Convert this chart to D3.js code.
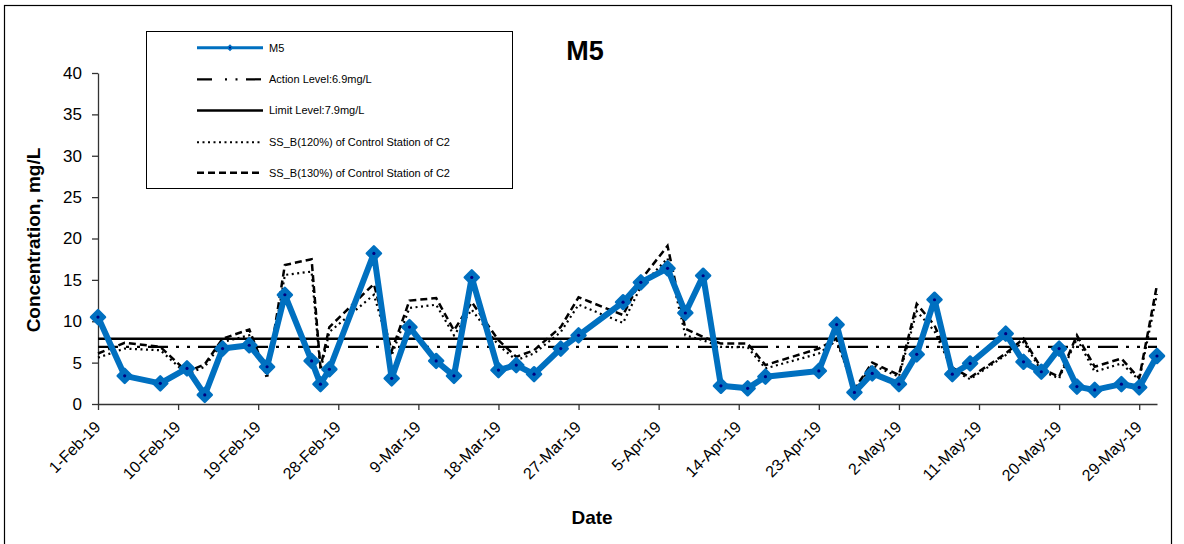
<!DOCTYPE html>
<html><head><meta charset="utf-8">
<script src="https://cdn.jsdelivr.net/npm/d3@7"></script>
<style>
body{margin:0;background:#fff}
svg{display:block;font-family:"Liberation Sans",Arial,sans-serif}
</style>
</head><body>
<svg id="c" width="1184" height="544"></svg>
<script>
// ---- data ----
const dates = ["2019-02-01","2019-02-04","2019-02-08","2019-02-11","2019-02-13","2019-02-15","2019-02-18","2019-02-20","2019-02-22","2019-02-25","2019-02-26","2019-02-27",
  "2019-03-04","2019-03-06","2019-03-08","2019-03-11","2019-03-13","2019-03-15","2019-03-18","2019-03-20","2019-03-22","2019-03-25","2019-03-27",
  "2019-04-01","2019-04-03","2019-04-06","2019-04-08","2019-04-10","2019-04-12","2019-04-15","2019-04-17","2019-04-23","2019-04-25","2019-04-27","2019-04-29",
  "2019-05-02","2019-05-04","2019-05-06","2019-05-08","2019-05-10","2019-05-14","2019-05-16","2019-05-18","2019-05-20","2019-05-22","2019-05-24","2019-05-27","2019-05-29","2019-05-31"];
const m5 = [10.5,3.4,2.5,4.3,1.1,6.7,7.1,4.5,13.2,5.2,2.4,4.2,
  18.2,3.1,9.3,5.2,3.4,15.3,4.1,4.7,3.6,6.7,8.3,
  12.3,14.7,16.4,11.0,15.5,2.2,1.9,3.3,4.0,9.6,1.4,3.7,
  2.4,6.0,12.6,3.6,4.9,8.5,5.1,3.9,6.7,2.1,1.7,2.4,2.0,5.8];
const ss120 = [5.6,6.7,6.5,3.6,4.5,7.5,8.3,3.1,15.6,16.0,4.1,8.7,
  13.2,5.9,11.6,12.0,8.3,11.4,7.1,5.3,6.1,8.7,12.0,
  9.8,14.2,17.6,8.3,7.7,6.9,6.85,4.3,6.1,7.7,1.6,4.7,
  3.3,11.2,8.8,4.1,3.0,5.9,7.5,4.0,3.1,7.9,3.9,4.9,2.9,13.3];
const ss130 = [6.1,7.4,6.9,3.9,4.8,7.9,9.0,3.4,16.8,17.5,4.4,9.3,
  14.5,6.4,12.5,12.8,8.9,12.3,7.7,5.7,6.5,9.3,12.9,
  10.75,15.0,19.1,9.1,8.1,7.3,7.3,4.7,6.7,7.9,1.8,5.0,
  3.5,12.1,9.5,4.4,3.2,6.1,7.9,4.3,3.3,8.3,4.5,5.5,3.1,14.4];
const actionLevel = 6.9;
const limitLevel = 7.9;
const yTicks = [0,5,10,15,20,25,30,35,40];
const xTickDates = ["2019-02-01","2019-02-10","2019-02-19","2019-02-28","2019-03-09","2019-03-18","2019-03-27","2019-04-05","2019-04-14","2019-04-23","2019-05-02","2019-05-11","2019-05-20","2019-05-29"];
const xDomain = ["2019-02-01","2019-05-31"];
const legendLabels = ["M5","Action Level:6.9mg/L","Limit Level:7.9mg/L","SS_B(120%) of Control Station of C2","SS_B(130%) of Control Station of C2"];

// ---- chart ----
const parse = d3.utcParse("%Y-%m-%d");
const fmt = d3.utcFormat("%-d-%b-%y");
const svg = d3.select("#c");
const BLUE = "#0070C0";

svg.append("rect").attr("x",4.5).attr("y",5.5).attr("width",1167).attr("height",560)
  .attr("fill","none").attr("stroke","#000").attr("stroke-width",1.2);

const x = d3.scaleUtc().domain(xDomain.map(parse)).range([98,1157]);
const y = d3.scaleLinear().domain([0,40]).range([404,73]);

// axes
const yAxis = svg.append("g").attr("transform","translate(98,0)")
  .call(d3.axisLeft(y).tickValues(yTicks).tickSize(6).tickSizeOuter(0).tickPadding(10));
yAxis.selectAll("text").attr("font-size",17).attr("fill","#000").attr("font-family","Liberation Sans, Arial, sans-serif");
yAxis.selectAll("line,path").attr("stroke","#333").attr("stroke-width",1.3);

const xAxis = svg.append("g").attr("transform","translate(0,404)")
  .call(d3.axisBottom(x).tickValues(xTickDates.map(parse)).tickFormat(fmt).tickSize(6).tickSizeOuter(0));
xAxis.selectAll("line,path").attr("stroke","#333").attr("stroke-width",1.3);
xAxis.selectAll("text")
  .attr("font-size",16).attr("fill","#000").attr("font-family","Liberation Sans, Arial, sans-serif")
  .attr("text-anchor","end").attr("y",0).attr("dy",0)
  .attr("transform","translate(3,24) rotate(-45)");

// titles
svg.append("text").attr("x",585).attr("y",60).attr("text-anchor","middle")
  .attr("font-size",27).attr("font-weight","bold").text("M5");
svg.append("text").attr("transform","translate(40,240) rotate(-90)").attr("text-anchor","middle")
  .attr("font-size",19).attr("font-weight","bold").text("Concentration, mg/L");
svg.append("text").attr("x",592).attr("y",524).attr("text-anchor","middle")
  .attr("font-size",19).attr("font-weight","bold").text("Date");

const rows = dates.map((d,i)=>({d:parse(d), m5:m5[i], s120:ss120[i], s130:ss130[i]}));
const xr = x.range();

// horizontal levels
const ACTION_DASH = "20,8,3,8,3,8";
svg.append("line").attr("x1",xr[0]).attr("x2",xr[1]).attr("y1",y(actionLevel)).attr("y2",y(actionLevel))
  .attr("stroke","#000").attr("stroke-width",2.2).attr("stroke-dasharray",ACTION_DASH);
svg.append("line").attr("x1",xr[0]).attr("x2",xr[1]).attr("y1",y(limitLevel)).attr("y2",y(limitLevel))
  .attr("stroke","#000").attr("stroke-width",2.5);

// SS lines
const line = key => d3.line().x(d=>x(d.d)).y(d=>y(d[key]));
svg.append("path").datum(rows).attr("d",line("s120")).attr("fill","none")
  .attr("stroke","#000").attr("stroke-width",2.2).attr("stroke-dasharray","2,3.5");
svg.append("path").datum(rows).attr("d",line("s130")).attr("fill","none")
  .attr("stroke","#000").attr("stroke-width",2.5).attr("stroke-dasharray","7,4");

// M5
svg.append("path").datum(rows).attr("d",line("m5")).attr("fill","none")
  .attr("stroke",BLUE).attr("stroke-width",6).attr("stroke-linejoin","round");
const diamond = r => `M0,${-r}L${r},0L0,${r}L${-r},0Z`;
const mk = svg.append("g").selectAll("g").data(rows).join("g")
  .attr("transform",d=>`translate(${x(d.d)},${y(d.m5)})`);
mk.append("path").attr("d",diamond(7)).attr("fill",BLUE).attr("stroke",BLUE)
  .attr("stroke-width",2.5).attr("stroke-linejoin","round");
mk.append("circle").attr("r",1.6).attr("fill","#000080");

// legend
const lg = svg.append("g");
lg.append("rect").attr("x",146.5).attr("y",31.5).attr("width",366).attr("height",157)
  .attr("fill","#fff").attr("stroke","#000").attr("stroke-width",1);
const ly = [47.7,79.3,110.5,142.3,172.7];
const styles = [
  {stroke:BLUE,w:3,dash:null},
  {stroke:"#000",w:2.2,dash:"15,13,2,8.5,2,8.5"},
  {stroke:"#000",w:2.5,dash:null},
  {stroke:"#000",w:2,dash:"2,3.5"},
  {stroke:"#000",w:2.5,dash:"7,4"}
];
legendLabels.forEach((t,i)=>{
  const l = lg.append("line").attr("x1",197).attr("x2",263).attr("y1",ly[i]).attr("y2",ly[i])
    .attr("stroke",styles[i].stroke).attr("stroke-width",styles[i].w);
  if(styles[i].dash) l.attr("stroke-dasharray",styles[i].dash);
  if(i===0){
    lg.append("path").attr("transform",`translate(230,${ly[i]})`).attr("d",diamond(3.5)).attr("fill",BLUE);
    lg.append("circle").attr("cx",230).attr("cy",ly[i]).attr("r",0.9).attr("fill","#000080");
  }
  lg.append("text").attr("x",269).attr("y",ly[i]).attr("dy","0.35em").attr("font-size",11).text(t);
});
</script>
</body></html>
